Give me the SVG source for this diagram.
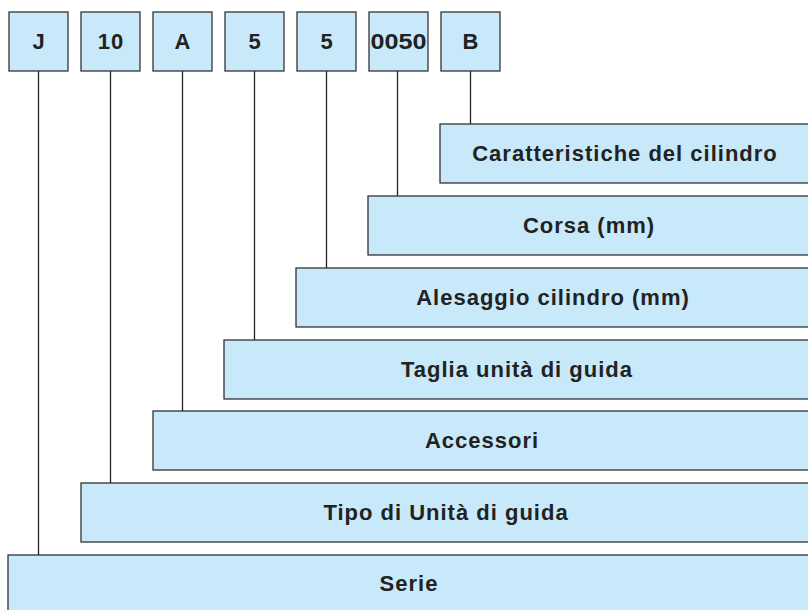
<svg xmlns="http://www.w3.org/2000/svg" width="808" height="610" viewBox="0 0 808 610">
<style>
.b{fill:#c8e9f9;stroke:#333;stroke-width:1.3}
.t{font-family:"Liberation Sans",Arial,sans-serif;font-weight:bold;font-size:22px;letter-spacing:1px;fill:#222;text-anchor:middle}
.c{stroke:#222;stroke-width:1.3;fill:none}
</style>
<rect width="808" height="610" fill="#fff"/>
<g id="connectors">
<line class="c" x1="38.5" y1="71" x2="38.5" y2="555"/>
<line class="c" x1="110.5" y1="71" x2="110.5" y2="483"/>
<line class="c" x1="182.5" y1="71" x2="182.5" y2="411"/>
<line class="c" x1="254.5" y1="71" x2="254.5" y2="340"/>
<line class="c" x1="326.5" y1="71" x2="326.5" y2="268"/>
<line class="c" x1="397.5" y1="71" x2="397.5" y2="196"/>
<line class="c" x1="470.5" y1="71" x2="470.5" y2="124"/>
</g>
<g id="code-J"><rect class="b" x="9" y="12" width="59" height="59"/><text class="t" x="39" y="49">J</text></g>
<g id="code-10"><rect class="b" x="81" y="12" width="59" height="59"/><text class="t" x="111" y="49">10</text></g>
<g id="code-A"><rect class="b" x="153" y="12" width="59" height="59"/><text class="t" x="183" y="49">A</text></g>
<g id="code-5a"><rect class="b" x="225" y="12" width="59" height="59"/><text class="t" x="255" y="49">5</text></g>
<g id="code-5b"><rect class="b" x="297" y="12" width="59" height="59"/><text class="t" x="327" y="49">5</text></g>
<g id="code-0050"><rect class="b" x="369" y="12" width="59" height="59"/><text class="t" x="398.5" y="49" style="letter-spacing:0" textLength="56" lengthAdjust="spacingAndGlyphs">0050</text></g>
<g id="code-B"><rect class="b" x="441" y="12" width="59" height="59"/><text class="t" x="471" y="49">B</text></g>
<g id="caratteristiche"><rect class="b" x="440" y="124" width="380" height="59"/><text class="t" x="625" y="161">Caratteristiche del cilindro</text></g>
<g id="corsa"><rect class="b" x="368" y="196" width="452" height="59"/><text class="t" x="589" y="233">Corsa (mm)</text></g>
<g id="alesaggio"><rect class="b" x="296" y="268" width="524" height="59"/><text class="t" x="553" y="305">Alesaggio cilindro (mm)</text></g>
<g id="taglia"><rect class="b" x="224" y="340" width="596" height="59"/><text class="t" x="517" y="377">Taglia unità di guida</text></g>
<g id="accessori"><rect class="b" x="153" y="411" width="667" height="59"/><text class="t" x="482" y="448">Accessori</text></g>
<g id="tipo"><rect class="b" x="81" y="483" width="739" height="59"/><text class="t" x="446" y="520">Tipo di Unità di guida</text></g>
<g id="serie"><rect class="b" x="8" y="555" width="812" height="70"/><text class="t" x="409" y="591">Serie</text></g>
</svg>
